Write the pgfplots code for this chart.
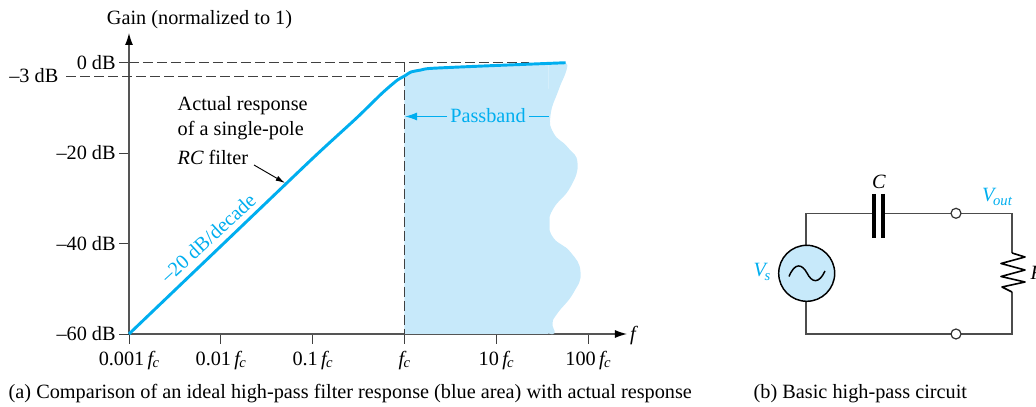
\documentclass[border=0pt]{standalone}
\usepackage{fontspec}
\setmainfont{Liberation Serif}
\usepackage{pgfplots}
\pgfplotsset{compat=1.18}
\usetikzlibrary{arrows.meta}
\definecolor{cyanline}{HTML}{00AEEF}
\definecolor{cyanfill}{HTML}{C7E9FA}
\definecolor{axgray}{HTML}{555555}
\newcommand{\fc}{{\itshape f}\kern-0.5pt\raisebox{-0.25ex}{\fontsize{11}{11}\selectfont\itshape c}}
\begin{document}
\begin{tikzpicture}[font=\fontsize{15.2}{18}\selectfont]
\useasboundingbox (0,0) rectangle (777pt,305.25pt);
\begin{axis}[
  at={(96.75pt,54.75pt)}, anchor=south west,
  scale only axis, width=373.5pt, height=225.75pt,
  xmode=log, log basis x=10,
  xmin=0.001, xmax=266, ymin=-60, ymax=6.52,
  axis lines=left,
  axis line style={axgray,line width=0.9pt},
  x axis line style={-{Latex[length=9pt,width=6pt,black]}},
  y axis line style={-{Latex[length=9pt,width=6pt,black]}},
  xtick={0.001,0.01,0.1,1,10,100},
  xticklabels={0.001\,\fc,0.01\,\fc,0.1\,\fc,\fc,10\,\fc,100\,\fc},
  ytick={0,-20,-40,-60},
  yticklabels={0 dB,{--20 dB},{--40 dB},{--60 dB}},
  minor tick num=0,
  tick align=outside, tick pos=left, major tick length=7.5pt,
  tick style={black!75,line width=0.7pt},
  x tick label style={yshift=-2pt},
  y tick label style={xshift=1pt},
  clip=false,
]
% ideal passband: inner polygon
\addplot[fill=cyanfill,draw=none] table {
1 -60
1 -3
1.18 -2.1
1.51 -1.66
1.94 -1.3
7.3 -0.77
37 -0.3
37 -60
};
% ideal passband: wavy edge
\addplot[fill=cyanfill,draw=none,smooth,tension=0.85] table {
37 -0.25
50 -0.1
57 -0.05
58.4 -1.66
47.8 -6.08
39.1 -11.6
42.2 -15.6
59.9 -18.7
76.9 -22.2
64.5 -27.5
42.2 -32.2
38.2 -35.5
42.2 -38.8
64.5 -41.9
82.9 -46.3
69.5 -50.9
46.6 -55.4
41.1 -57.6
43.2 -59.8
36 -59.8
};
% dashed guides
\addplot[black!75,line width=0.7pt,dash pattern=on 7.5pt off 3pt] coordinates {(0.001,0) (23,0)};
\addplot[black!75,line width=0.7pt,dash pattern=on 7.5pt off 3pt] coordinates {(0.000206,-3) (1,-3)};
\addplot[black!75,line width=0.7pt,dash pattern=on 7.5pt off 3pt] coordinates {(1,0) (1,-60)};
% actual response
\addplot[cyanline,line width=2.2pt,line join=round,smooth,tension=0.4] table {
0.001 -60
0.01 -40.6
0.1 -21.2
0.3 -12.3
0.55 -7.1
0.7 -5.2
0.85 -3.8
1 -3
1.18 -2.1
1.51 -1.66
1.94 -1.3
7.3 -0.77
57 -0.05
};
\end{axis}
\begin{scope}[x=0.75pt,y=-0.75pt,yshift=305.25pt]
\node[anchor=east] at (63,75.5) {--3 dB};
\node at (199.5,20) {Gain (normalized to 1)};
\node at (633,336) {\itshape f};
\node[anchor=west] at (173,106) {Actual response};
\node[anchor=west] at (173,131) {of a single-pole};
\node[anchor=west] at (173,157) {{\itshape RC} filter};
\draw[black,line width=0.7pt,-{Latex[length=7pt,width=4pt]}] (254,165) -- (285,183);
\node[cyanline,rotate=42.5] at (208,238) {--20 dB/decade};
\node[cyanline] at (488,116) {Passband};
\draw[cyanline,line width=0.8pt,-{Latex[length=9pt,width=6pt]}] (447,116.5) -- (405,116.5);
\draw[cyanline,line width=0.8pt] (529,116.5) -- (549,116.5);
\node[anchor=west] at (4,394) {(a) Comparison of an ideal high-pass filter response (blue area) with actual response};
\node[anchor=west] at (749,394) {(b) Basic high-pass circuit};
% circuit
\draw[black!70,line width=0.9pt] (806,245) -- (806,213.3) -- (874,213.3);
\draw[black!70,line width=0.9pt] (883,213.3) -- (951,213.3);
\draw[black!70,line width=0.9pt] (961,213.3) -- (1012,213.3) -- (1012,253);
\draw[black!70,line width=0.9pt] (1012,292) -- (1012,334) -- (961,334);
\draw[black!70,line width=0.9pt] (951,334) -- (806,334) -- (806,301);
\draw[black,line width=1.1pt,fill=cyanfill] (806.7,273.3) circle[radius=28];
\draw[black,line width=1.1pt] (789,276.5) .. controls (795,262) and (802,264) .. (807,273) .. controls (812,283) and (819,284) .. (825,271);
\draw[black,line width=3pt] (874.3,194) -- (874.3,238);
\draw[black,line width=3pt] (883.3,194) -- (883.3,238);
\draw[black!80,line width=0.9pt,fill=white] (956,213.3) circle[radius=5];
\draw[black!80,line width=0.9pt,fill=white] (956,334) circle[radius=5];
\draw[black,line width=1.2pt,line join=round] (1012,253) -- (1025,257) -- (1001,263.5) -- (1025,270) -- (1001,276.5) -- (1025,282) -- (1002,287) -- (1012,292);
\node at (879,182) {\itshape C};
\node[cyanline] at (997,197) {{\itshape V}\kern-1pt\raisebox{-0.35ex}{\fontsize{11}{11}\selectfont\itshape out}};
\node[cyanline] at (762,272) {{\itshape V}\kern-1pt\raisebox{-0.35ex}{\fontsize{11}{11}\selectfont\itshape s}};
\node[anchor=west] at (1026,273) {\itshape R};
\end{scope}
\end{tikzpicture}
\end{document}
